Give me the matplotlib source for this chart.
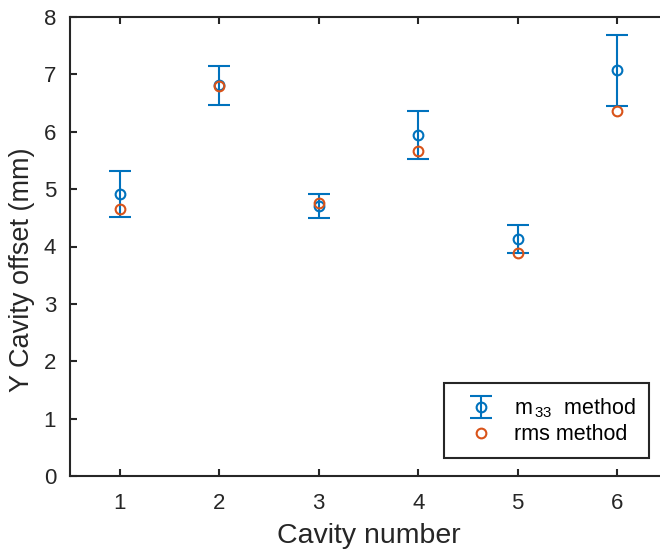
import matplotlib.pyplot as plt

# data
cavity = [1, 2, 3, 4, 5, 6]
m33_offset = [4.92, 6.81, 4.71, 5.94, 4.13, 7.07]
m33_err = [0.40, 0.34, 0.21, 0.42, 0.25, 0.62]
rms_offset = [4.66, 6.79, 4.76, 5.67, 3.88, 6.36]
xticks = [1, 2, 3, 4, 5, 6]
yticks = [0, 1, 2, 3, 4, 5, 6, 7, 8]

BLUE = '#0072BD'
ORANGE = '#D95319'
AXC = '#262626'

plt.rcParams['font.family'] = ['Liberation Sans', 'DejaVu Sans']
plt.rcParams['mathtext.fontset'] = 'custom'
plt.rcParams['mathtext.rm'] = 'Liberation Sans'
plt.rcParams['mathtext.it'] = 'Liberation Sans'

fig = plt.figure(figsize=(6.6, 5.5), dpi=100)
# axes run past the right edge, as in the cropped reference
ax = fig.add_axes([70 / 660, 74 / 550, 597 / 660, 459 / 550])

eb = ax.errorbar(cavity, m33_offset, yerr=m33_err, fmt='o', color=BLUE,
                 markerfacecolor='none', markersize=7, markeredgewidth=1.5,
                 elinewidth=1.5, capsize=8, capthick=1.5, zorder=3)
rms, = ax.plot(cavity, rms_offset, 'o', color=ORANGE, markerfacecolor='none',
               markersize=7, markeredgewidth=1.5, zorder=4)

ax.set_xlim(0.5, 6.5)
ax.set_ylim(0, 8)
ax.set_xticks(xticks)
ax.set_yticks(yticks)
ax.tick_params(direction='in', length=5, width=1.5, colors=AXC,
               labelsize=16, top=True, right=True)
ax.tick_params(axis='x', pad=12)
ax.tick_params(axis='y', pad=10)
for s in ax.spines.values():
    s.set_linewidth(1.5)
    s.set_color(AXC)

ax.set_xlabel('Cavity number', fontsize=20.5, color=AXC, labelpad=7)
ax.set_ylabel('Y Cavity offset (mm)', fontsize=19.5, color=AXC)
ax.yaxis.set_label_coords(-0.058, 0.449)

leg = ax.legend([eb, rms], ['m$_{\\,33}$  method', 'rms method'],
                loc='lower right', bbox_to_anchor=(0.970, 0.039),
                borderaxespad=0, fontsize=15.5, fancybox=False,
                edgecolor=AXC, framealpha=1, handlelength=2.2,
                handletextpad=0.45, borderpad=0.6, labelspacing=0.2)
leg.get_frame().set_linewidth(1.5)

fig.savefig('out.png', dpi=100)
